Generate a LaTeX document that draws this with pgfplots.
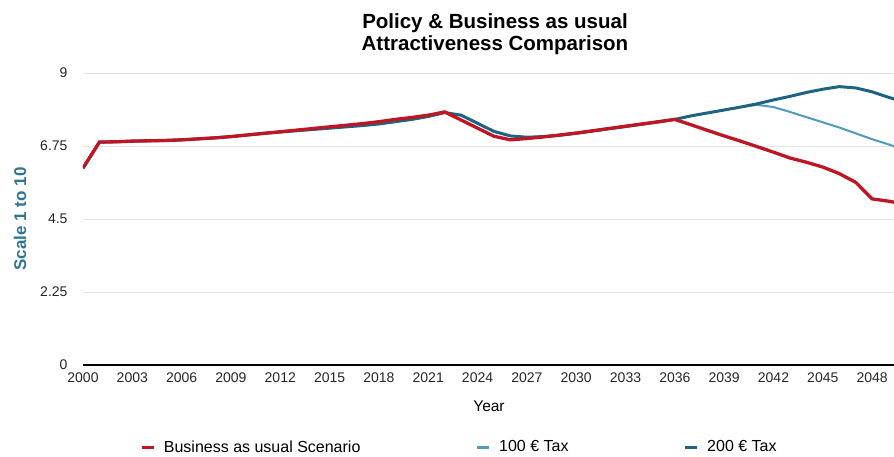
\documentclass[border=0pt]{standalone}
\usepackage{pgfplots}
\pgfplotsset{compat=1.18}
\usepackage{pgfplotstable}
\usepackage{fontspec}
\setmainfont{Liberation Sans}
\definecolor{bau}{RGB}{192,22,36}
\definecolor{taxA}{RGB}{78,154,192}
\definecolor{taxB}{RGB}{30,100,130}
\definecolor{ylab}{RGB}{43,118,148}
\definecolor{gridc}{RGB}{228,228,228}

\pgfplotstableread{
year val
2000 6.07
2001 6.87
2002 6.88
2003 6.90
2004 6.91
2005 6.92
2006 6.94
2007 6.97
2008 7.00
2009 7.04
2010 7.09
2011 7.14
2012 7.19
2013 7.24
2014 7.29
2015 7.34
2016 7.39
2017 7.44
2018 7.50
2019 7.57
2020 7.63
2021 7.70
2022 7.80
2023 7.55
2024 7.30
2025 7.05
2026 6.94
2027 6.98
2028 7.03
2029 7.09
2030 7.15
2031 7.22
2032 7.29
2033 7.36
2034 7.43
2035 7.50
2036 7.57
2037 7.40
2038 7.23
2039 7.06
2040 6.90
2041 6.73
2042 6.56
2043 6.38
2044 6.25
2045 6.10
2046 5.90
2047 5.63
2048 5.12
2049 5.05
2050 4.95
}\bau

\pgfplotstableread{
year val
2000 6.07
2001 6.87
2002 6.88
2003 6.90
2004 6.91
2005 6.92
2006 6.94
2007 6.97
2008 7.00
2009 7.04
2010 7.09
2011 7.14
2012 7.18
2013 7.22
2014 7.26
2015 7.30
2016 7.34
2017 7.38
2018 7.43
2019 7.50
2020 7.57
2021 7.66
2022 7.78
2023 7.70
2024 7.45
2025 7.20
2026 7.06
2027 7.02
2028 7.04
2029 7.08
2030 7.14
2031 7.21
2032 7.28
2033 7.35
2034 7.42
2035 7.49
2036 7.57
2037 7.68
2038 7.77
2039 7.86
2040 7.95
2041 8.02
2042 7.95
2043 7.80
2044 7.64
2045 7.48
2046 7.32
2047 7.14
2048 6.96
2049 6.80
2050 6.62
}\taxA

\pgfplotstableread{
year val
2000 6.07
2001 6.87
2002 6.88
2003 6.90
2004 6.91
2005 6.92
2006 6.94
2007 6.97
2008 7.00
2009 7.04
2010 7.09
2011 7.14
2012 7.18
2013 7.22
2014 7.26
2015 7.30
2016 7.34
2017 7.38
2018 7.43
2019 7.50
2020 7.57
2021 7.66
2022 7.78
2023 7.70
2024 7.45
2025 7.20
2026 7.06
2027 7.02
2028 7.04
2029 7.08
2030 7.14
2031 7.21
2032 7.28
2033 7.35
2034 7.42
2035 7.49
2036 7.57
2037 7.68
2038 7.77
2039 7.86
2040 7.95
2041 8.05
2042 8.17
2043 8.28
2044 8.40
2045 8.50
2046 8.58
2047 8.54
2048 8.42
2049 8.25
2050 8.10
}\taxB

\begin{document}
\begin{tikzpicture}
\begin{axis}[
  scale only axis,
  width=811pt, height=292pt,
  xmin=2000, xmax=2049.33,
  ymin=0, ymax=9,
  axis x line*=bottom,
  axis y line*=left,
  y axis line style={draw=none},
  x axis line style={line width=1.4pt, black},
  xtick={2000,2003,...,2048},
  xticklabels={2000,2003,2006,2009,2012,2015,2018,2021,2024,2027,2030,2033,2036,2039,2042,2045,2048},
  ytick={0,2.25,4.5,6.75,9},
  yticklabels={0,2.25,4.5,6.75,9},
  major tick length=0pt,
  ymajorgrids,
  grid style={gridc, line width=0.9pt},
  tick label style={font=\fontsize{14}{16}\selectfont, text=black!85},
  /pgf/number format/assume math mode=true,
  xticklabel style={anchor=north, yshift=-4pt},
  yticklabel style={anchor=east, xshift=-12pt},
  xlabel={Year},
  xlabel style={at={(axis description cs:0.5006,-0.140)}, anchor=center, font=\fontsize{15.5}{17}\selectfont},
  ylabel={Scale 1 to 10},
  ylabel style={at={(axis description cs:-0.0777,0.5)}, anchor=center, font=\bfseries\fontsize{17}{19}\selectfont, text=ylab},
  title={Policy \& Business as usual\\Attractiveness Comparison},
  title style={at={(axis description cs:0.508,1)}, anchor=south, yshift=9pt, align=center, font=\bfseries\fontsize{20.5}{22}\selectfont},
  legend columns=3,
  legend style={at={(axis description cs:0.0703,-0.281)}, anchor=west, draw=none, inner xsep=0pt, inner ysep=0pt, font=\fontsize{16}{18}\selectfont, /tikz/every even column/.append style={column sep=113pt}},
  legend image code/.code={\draw[#1, line width=3pt] (0pt,0pt) -- (12pt,0pt); \path (20pt,0pt);},
]
\addlegendimage{bau}
\addlegendentry{Business as usual Scenario}
\addlegendimage{taxA}
\addlegendentry{100 € Tax}
\addlegendimage{taxB}
\addlegendentry{200 € Tax}
\addplot[taxA, line width=2pt, forget plot] table[x=year, y=val] {\taxA};
\addplot[taxB, line width=3pt, forget plot] table[x=year, y=val] {\taxB};
\addplot[bau, line width=3.3pt, forget plot] table[x=year, y=val] {\bau};
\end{axis}
\pgfresetboundingbox
\path (-83pt,-92pt) rectangle (811pt,365pt);
\end{tikzpicture}
\end{document}
